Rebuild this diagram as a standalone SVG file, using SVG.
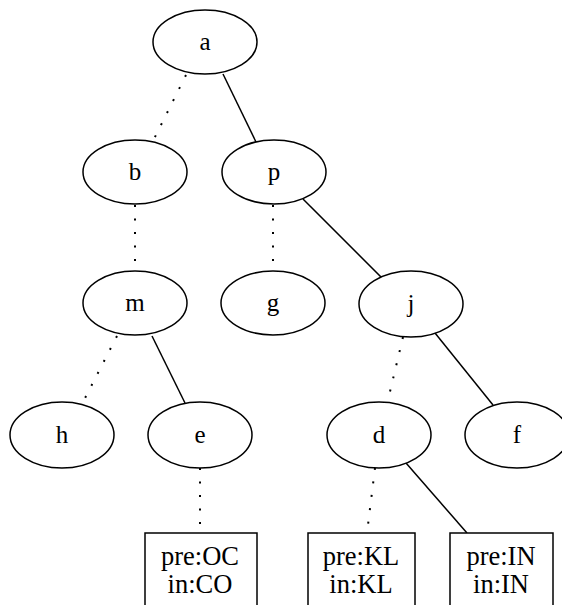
<svg xmlns="http://www.w3.org/2000/svg" width="562" height="605" viewBox="0 0 562 605">
<style>
.n ellipse,.n rect{fill:#fff;stroke:#000;stroke-width:1.5}
.n text{font-family:"Liberation Serif",serif;font-size:25px;text-anchor:middle;fill:#000}
.n .t{font-size:26.5px}
.e line{stroke:#000;stroke-width:1.5}
.e .d{stroke-width:2;stroke-dasharray:2,11.5}
</style>
<rect width="562" height="605" fill="#fff"/>
<g class="e">
<line class="d" x1="186" y1="75" x2="153" y2="141"/>
<line x1="223" y1="74" x2="256" y2="142"/>
<line class="d" x1="135" y1="205" x2="135" y2="271"/>
<line class="d" x1="273" y1="205" x2="273" y2="271"/>
<line x1="303" y1="199" x2="384" y2="280"/>
<line class="d" x1="117" y1="336" x2="82" y2="404"/>
<line x1="152" y1="336" x2="185" y2="403"/>
<line class="d" x1="403" y1="337" x2="388" y2="400"/>
<line x1="435" y1="333" x2="493" y2="405"/>
<line class="d" x1="200" y1="468" x2="200" y2="533"/>
<line class="d" x1="375" y1="468" x2="367" y2="533"/>
<line x1="406" y1="463" x2="467" y2="533"/>
</g>
<g id="a" class="n"><ellipse cx="205" cy="42" rx="52" ry="32"/><text x="205" y="50">a</text></g>
<g id="b" class="n"><ellipse cx="135" cy="172" rx="52" ry="32"/><text x="135" y="180">b</text></g>
<g id="p" class="n"><ellipse cx="274" cy="172" rx="52" ry="32"/><text x="274" y="180">p</text></g>
<g id="m" class="n"><ellipse cx="135" cy="303" rx="52" ry="32"/><text x="135" y="311">m</text></g>
<g id="g" class="n"><ellipse cx="273" cy="303" rx="52" ry="32"/><text x="273" y="311">g</text></g>
<g id="j" class="n"><ellipse cx="411" cy="304" rx="52" ry="33"/><text x="411" y="312">j</text></g>
<g id="h" class="n"><ellipse cx="62" cy="435" rx="52" ry="33"/><text x="62" y="443">h</text></g>
<g id="e" class="n"><ellipse cx="200" cy="435" rx="52" ry="33"/><text x="200" y="443">e</text></g>
<g id="d" class="n"><ellipse cx="379" cy="435" rx="52" ry="33"/><text x="379" y="443">d</text></g>
<g id="f" class="n"><ellipse cx="517" cy="435" rx="52" ry="33"/><text x="517" y="443">f</text></g>
<g id="box1" class="n"><rect x="145" y="533" width="112" height="90"/><text class="t" x="200" y="565">pre:OC</text><text class="t" x="200" y="593">in:CO</text></g>
<g id="box2" class="n"><rect x="308" y="533" width="107" height="90"/><text class="t" x="361" y="565">pre:KL</text><text class="t" x="361" y="593">in:KL</text></g>
<g id="box3" class="n"><rect x="450" y="533" width="103" height="90"/><text class="t" x="501" y="565">pre:IN</text><text class="t" x="501" y="593">in:IN</text></g>
</svg>
